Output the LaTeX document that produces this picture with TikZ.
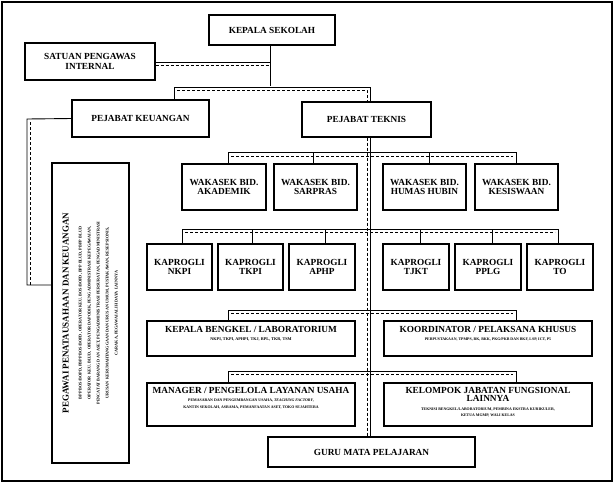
\documentclass[tikz,border=0pt]{standalone}
\usepackage{fontspec}
\setmainfont{Liberation Serif}
\newcommand\smA[1]{{\fontsize{4.2}{5}\selectfont #1}}
\newcommand\smB[1]{{\fontsize{3.9}{4.8}\selectfont #1}}
\begin{document}
\begin{tikzpicture}[x=1pt,y=-1pt,
 box/.style={draw,line width=1.2pt,align=center,inner sep=1pt,font=\bfseries\fontsize{9.3}{9.5}\selectfont},
 ln/.style={line width=0.9pt},
 dl/.style={line width=0.6pt,dash pattern=on 3pt off 2pt}]
\useasboundingbox (0,0) rectangle (614,483);
\draw[line width=1.5pt] (2,2) rectangle (612,481);
\newcommand\bx[6]{\node[box,minimum width=#4-#2,minimum height=#5-#3] (#1) at ({(#2+#4)/2},{(#3+#5)/2}) {#6};}
\bx{ks}{209}{15}{335}{45}{KEPALA SEKOLAH}
\bx{spi}{25}{43}{155}{80}{SATUAN PENGAWAS\\INTERNAL}
\bx{pk}{72}{100}{209}{137}{PEJABAT KEUANGAN}
\bx{pt}{302}{102}{431}{137}{PEJABAT TEKNIS}
\bx{w1}{182}{164}{266}{210}{WAKASEK BID.\\AKADEMIK}
\bx{w2}{274}{164}{357}{210}{WAKASEK BID.\\SARPRAS}
\bx{w3}{383}{164}{466}{210}{WAKASEK BID.\\HUMAS HUBIN}
\bx{w4}{475}{164}{558}{210}{WAKASEK BID.\\KESISWAAN}
\bx{k1}{147}{244}{212}{290}{KAPROGLI\\NKPI}
\bx{k2}{218}{244}{283}{290}{KAPROGLI\\TKPI}
\bx{k3}{289}{244}{355}{290}{KAPROGLI\\APHP}
\bx{k4}{383}{244}{449}{290}{KAPROGLI\\TJKT}
\bx{k5}{455}{244}{521}{290}{KAPROGLI\\PPLG}
\bx{k6}{527}{244}{593}{290}{KAPROGLI\\TO}
\bx{lab}{147}{321}{355}{356}{}
\bx{kor}{384}{321}{592}{356}{}
\bx{man}{147}{383}{355}{426}{}
\bx{kjf}{384}{383}{592}{426}{}
\bx{guru}{268}{437}{475}{467}{GURU MATA PELAJARAN}
\bx{peg}{52}{163}{129}{463}{}
\node[box,draw=none,anchor=north] at ([yshift=-4pt]lab.north) {KEPALA BENGKEL / LABORATORIUM\\[-1pt]\smA{NKPI, TKPI, APHPI, TKJ, RPL, TKR, TSM}};
\node[box,draw=none,anchor=north] at ([yshift=-4pt]kor.north) {KOORDINATOR / PELAKSANA KHUSUS\\[-1pt]\smB{PERPUSTAKAAN, TPMPS, BK, BKK, PKG/PKB DAN BKF, LSP, ICT, P5}};
\node[box,draw=none,anchor=north] at ([yshift=-3pt]man.north) {MANAGER / PENGELOLA LAYANAN USAHA\\[-1pt]\smB{PEMASARAN DAN PENGEMBANGAN USAHA, \textit{TEACHING FACTORY},}\\[-3pt]\smB{KANTIN SEKOLAH, ASRAMA, PEMANFAATAN ASET, TOKO SEJAHTERA}};
\node[box,draw=none,anchor=north] at ([yshift=-3pt]kjf.north) {KELOMPOK JABATAN FUNGSIONAL\\[-1pt]LAINNYA\\[-1pt]\smB{TEKNISI BENGKEL/LABORATORIUM, PEMBINA EKSTRA KURIKULER,}\\[-3pt]\smB{KETUA MGMP, WALI KELAS}};
\node[rotate=90,align=center,font=\bfseries\fontsize{9}{11}\selectfont] at (peg.center) {PEGAWAI PENATAUSAHAAN DAN KEUANGAN\\[2pt]
\smA{BPP BOS/BOPD, PBPP BOS/BOPD, OPERATOR KEU. BOS/BOPD, BPP BLUD, PBPP BLUD}\\[-2pt]
\smA{OPERATOR KEU. BLUD, OPERATOR DAPODIK, PENGADMINISTRASI KEPEGAWAIAN,}\\[-2pt]
\smA{PENCATAT BARANG DAN ASET, PENGADMINISTRASI PERSURATAN, PENGADMINISTRASI}\\[-2pt]
\smA{URUSAN KERUMAHTANGGAAN DAN URUSAN UMUM, PUSTAKAWAN, RESEPSIONIS,}\\[-2pt]
\smA{CARAKA, PEGAWAI ALIH DAYA LAINNYA}};
% connectors
\draw[ln] (ks.south -| 270,0) -- (270,86);
\draw[ln] (spi.east |- 0,62) -- (270,62);
\draw[dl] (spi.east |- 0,65) -- (270,65);
\draw[ln] (pk.north -| 174,0) -- (174,87) -- (370,87) -- (pt.north -| 370,0);
\draw[dl] (177,90) -- (367,90) -- (pt.north -| 367,0);
\draw[ln] (pk.west) -- (27,119) -- (27,285) -- (peg.west |- 0,285);
\draw[dl] (30,122) -- (30,285);
\draw[ln] (pt.south -| 370,0) -- (guru.north -| 370,0);
\draw[dl] (pt.south -| 367,0) -- (guru.north -| 367,0);
% wakasek bar
\draw[ln] (w1.north -| 228,0) -- (228,152) -- (516,152) -- (w4.north -| 516,0);
\draw[dl] (231,156) -- (513,156);
\draw[ln] (313,152) -- (w2.north -| 313,0);
\draw[ln] (429,152) -- (w3.north -| 429,0);
% kaprogli bar
\draw[ln] (k1.north -| 182,0) -- (182,229) -- (558,229) -- (k6.north -| 558,0);
\draw[dl] (185,232) -- (555,232);
\draw[ln] (252,229) -- (k2.north -| 252,0);
\draw[ln] (325,229) -- (k3.north -| 325,0);
\draw[ln] (420,229) -- (k4.north -| 420,0);
\draw[ln] (492,229) -- (k5.north -| 492,0);
% lower bars
\draw[ln] (lab.north -| 228,0) -- (228,310) -- (516,310) -- (kor.north -| 516,0);
\draw[dl] (231,313) -- (513,313);
\draw[ln] (man.north -| 228,0) -- (228,371) -- (516,371) -- (kjf.north -| 516,0);
\draw[dl] (231,374) -- (513,374);
\end{tikzpicture}
\end{document}
